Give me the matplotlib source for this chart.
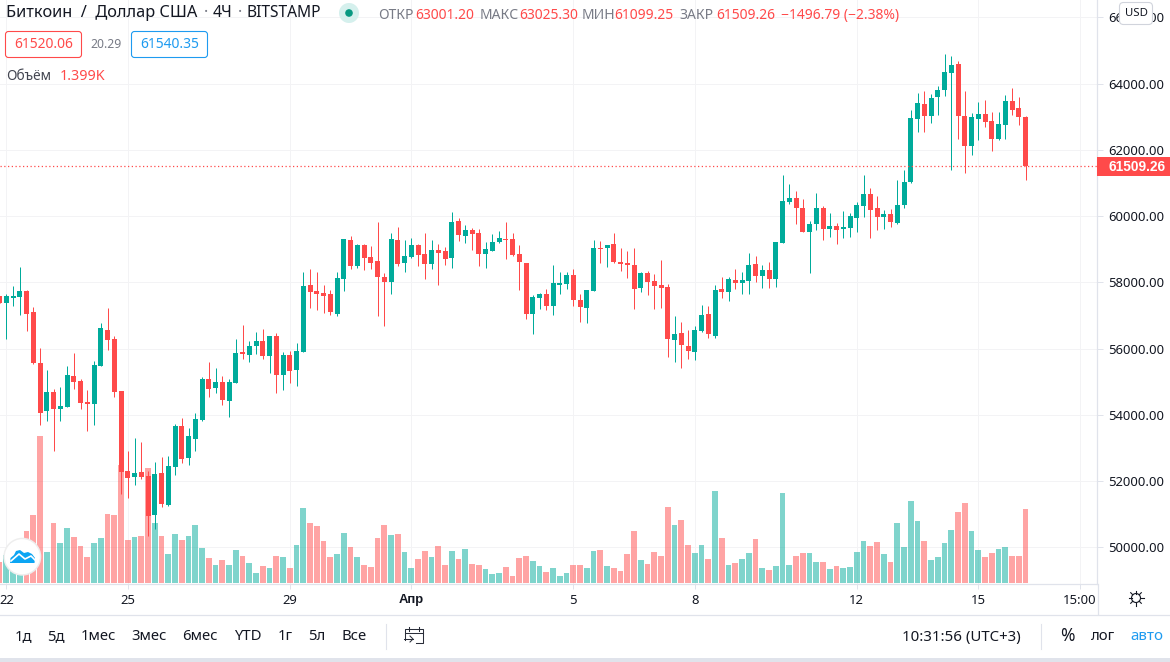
#set backend to run on server
import matplotlib
matplotlib.use('Agg')

from matplotlib import pyplot as plt
from matplotlib.patches import Circle, FancyBboxPatch, Polygon, Rectangle
import numpy as np

plt.rcParams['font.family'] = ['Noto Sans', 'DejaVu Sans']

# 4H candles, first one is cut off by the left edge
opens = [57585, 57374, 57525, 57555, 57736, 57102, 55561, 54111, 54685, 54171,
         54232, 55168, 55017, 54383, 54322, 55470, 56558, 56286, 54715, 52298,
         52117, 52268, 52147, 50969, 52238, 51271, 52419, 53658, 52691, 53265,
         53839, 55078, 54806, 54987, 54413, 54957, 55893, 55803, 56075, 56226,
         55772, 56377, 55198, 55803, 55349,
         55893, 57917, 57736, 57675, 57645, 57041, 58098, 59277, 58491, 59126,
         58763, 58642, 58159, 58008, 59277, 58582, 58763, 59126, 58854, 58552,
         58975, 58944, 58733, 59851, 59397, 59579, 59488, 58854, 58944, 59216,
         59307, 59307, 58854, 58582, 57041, 57524, 57645, 57283, 57917, 57947,
         58219, 57464, 57222,
         57735, 59035, 59035, 59155, 58612, 58581, 58521, 57826, 58279, 58038,
         57917, 57856, 56255, 56467, 56074, 55893, 56527, 57041, 56376, 57796,
         57705, 58068, 57977, 58038, 58551, 58189, 58370, 58098, 59186, 60424,
         60545, 60243, 59518, 59760, 60243, 59609, 59699,
         59607, 59638, 59940, 60302, 60665, 60242, 59970, 60061, 59789, 60332,
         61027, 62931, 63384, 63021, 63595, 63807, 64320, 64592, 63021, 62115,
         62931, 63082, 62870, 62326, 62749, 63474, 63263, 63001.20]
closes = [57374, 57585, 57585, 57736, 57041, 55561, 54050, 54685, 54171, 54262,
          55198, 54987, 54353, 54322, 55500, 56618, 56256, 54685, 52268, 52087,
          52238, 52117, 50939, 52208, 51301, 52449, 53658, 52661, 53356, 53869,
          55078, 54776, 54987, 54443, 54987, 55863, 55833, 56075, 56226, 55772,
          56377, 55198, 55803, 55319, 55923,
          57887, 57706, 57645, 57585, 57101, 58129, 59307, 58491, 59126, 58733,
          58582, 58159, 58008, 59307, 58552, 58793, 59126, 58823, 58552, 58975,
          58884, 58703, 59820, 59428, 59579, 59458, 58854, 59005, 59216, 59337,
          59277, 58823, 58612, 57041, 57555, 57645, 57283, 57978, 57978, 58219,
          57464, 57253, 57766,
          59035, 59005, 59125, 58612, 58551, 58521, 57796, 58279, 58007, 57887,
          57826, 56285, 56436, 56104, 55923, 56557, 57010, 56436, 57766, 57705,
          58098, 57977, 58068, 58521, 58189, 58370, 58098, 59216, 60454, 60545,
          60243, 59518, 59760, 60243, 59609, 59699, 59578,
          59668, 59999, 60332, 60665, 60181, 59970, 60061, 59819, 60332, 61027,
          62961, 63414, 63021, 63565, 63807, 64350, 64562, 63021, 62115, 62991,
          63082, 62840, 62326, 62779, 63474, 63202, 62991, 61509.26]
highs = [57585, 57645, 57887, 58461, 57766, 57253, 56014, 55349, 54776, 54836,
         55470, 55863, 55078, 54745, 55621, 56769, 57222, 56377, 54715, 52903,
         53295, 53174, 52298, 52570, 52721, 52751, 53718, 53899, 53597, 54050,
         55138, 55591, 55410, 55168, 55078, 56286, 56709, 56226, 56497, 56588,
         56377, 56467, 55893, 55923, 56165,
         58310, 58401, 58310, 57917, 57766, 58310, 59307, 59397, 59156, 59156,
         59095, 59820, 58280, 59488, 59669, 59277, 59337, 59156, 59488, 59277,
         59156, 59065, 60122, 59941, 59730, 59639, 59609, 59216, 59458, 59548,
         59820, 59488, 59126, 58582, 57615, 57675, 57796, 58521, 58310, 58310,
         58401, 57645, 57766,
         59276, 59246, 59125, 59488, 59035, 58944, 59035, 58309, 58340, 58249,
         58672, 57947, 56980, 56799, 56557, 56678, 57312, 57282, 57917, 58159,
         58159, 58400, 58309, 58883, 58793, 58521, 58612, 59216, 61240, 60968,
         60757, 60515, 59850, 60696, 60303, 60092, 59790,
         60151, 60091, 60423, 61239, 60846, 60604, 60181, 60212, 61088, 61390,
         63202, 63716, 63776, 63686, 63927, 64894, 64834, 64683, 63776, 63112,
         63444, 63504, 63142, 63142, 63656, 63867, 63595, 63025.30]
lows = [57374, 56286, 57283, 57011, 56528, 55531, 53688, 53809, 52903, 53809,
        54232, 54776, 54171, 53507, 53688, 55470, 55954, 54534, 51603, 51483,
        51875, 52057, 50335, 50546, 51211, 51241, 52177, 52540, 52479, 52903,
        53809, 54534, 54655, 54292, 53930, 54957, 55682, 55591, 55833, 55682,
        55259, 54655, 54745, 54957, 54866,
        55893, 57222, 57162, 57071, 57011, 56981, 57736, 58401, 58431, 58370,
        58401, 56981, 56678, 57645, 58491, 58310, 58733, 58491, 58098, 58401,
        57917, 58521, 58431, 59246, 59186, 58975, 58491, 58431, 58944, 59186,
        58703, 58793, 57766, 56890, 56437, 57192, 57162, 57011, 57645, 57796,
        57283, 56799, 56769,
        57735, 58581, 58461, 58581, 58340, 58128, 57192, 57705, 57615, 57192,
        57222, 55742, 55591, 55409, 55681, 55651, 56497, 56316, 56316, 57524,
        57433, 57796, 57645, 57645, 58007, 57826, 57826, 57856, 59186, 60364,
        59760, 59518, 58279, 59578, 59276, 59367, 59155,
        59336, 59366, 59517, 59970, 59336, 59577, 59607, 59668, 59758, 60242,
        60997, 62538, 62538, 62810, 63051, 63625, 61390, 62326, 61299, 61843,
        62296, 62689, 61964, 62296, 62326, 63051, 62749, 61099.25]
volumes = [397, 529, 630, 693, 983, 1285, 2778, 586, 1134, 756, 1040, 869, 699,
           491, 756, 851, 1304, 1285, 2230, 813, 869, 888, 2174, 1134, 888, 548,
           926, 813, 888, 1096, 662, 473, 340, 435, 340, 624, 510, 378, 189, 321,
           284, 510, 491, 284, 718, 1418, 1134, 1077, 794, 491, 548, 945, 680,
           491, 340, 302, 851, 1096, 907, 926,
           586, 284, 454, 605, 491, 699, 340, 605, 454, 643, 359, 340, 265, 170,
           189, 302, 132, 473, 510, 416, 321, 208, 284, 132, 189, 340, 340, 284,
           605, 624, 321, 284, 227, 548, 983, 435, 359, 586, 510, 1436, 1096,
           1191, 718, 567, 718, 454, 1739, 851, 340, 378, 454,
           567, 832, 284, 246, 321, 1701, 340, 510, 567, 567, 397, 397, 265, 321,
           284, 302, 586, 794, 699, 775, 548, 397, 1134, 680, 1550, 1172, 794,
           435, 491, 756, 1002, 1342, 1512, 983, 624, 491, 567, 643, 680, 510,
           510, 1399]

price_ticks = [50000, 52000, 54000, 56000, 58000, 60000, 62000, 64000, 66000]
time_ticks = [0, 18, 42, 60, 84, 102, 126, 144, 159]
time_labels = ['22', '25', '29', 'Апр', '5', '8', '12', '15', '15:00']
last_price = 61509.26

range_buttons = ['1д', '5д', '1мес', '3мес', '6мес', 'YTD', '1г', '5л', 'Все']
range_button_x = [23, 56, 98, 149, 200, 248, 285, 317, 354]

UP = '#00AB9B'
DOWN = '#FF4A4A'
GRID = '#F3F3F5'
BORDER = '#E0E3EB'
TEXT = '#131722'
GREY = '#787B86'
BLUE = '#1E9BF0'

W, H = 1170, 662
PANE_W, PANE_H = 1097, 584
x = np.arange(-1, 152)
o, h, l, c = map(np.array, (opens, highs, lows, closes))
up = c >= o

fig = plt.figure(figsize=(W / 100, H / 100), dpi=100, facecolor='white')
pos = [0, 1 - PANE_H / H, PANE_W / W, PANE_H / H]
xlim = (-0.933, 161.59)
price_lim = (48889, 66525)

# bottom layer: grid and both axes
ax = fig.add_axes(pos, zorder=1)
ax.set_xlim(*xlim)
ax.set_ylim(*price_lim)
ax.yaxis.tick_right()
ax.set_yticks(price_ticks)
ax.set_yticklabels(['%.2f' % p for p in price_ticks], fontsize=9.4, color=TEXT, va='center_baseline')
ax.set_xticks(time_ticks)
ax.set_xticklabels(time_labels, fontsize=9.4, color=TEXT)
apr = ax.get_xticklabels()[3]
apr.set_family('Liberation Sans')
apr.set_fontweight('bold')
ax.tick_params(axis='y', length=4.3, width=0.72, color=BORDER, pad=4)
ax.tick_params(axis='x', length=3.6, width=0.72, color=BORDER, pad=3.5)
ax.grid(True, color=GRID, linewidth=0.72)
ax.set_axisbelow(True)
for side in ['top', 'left']:
    ax.spines[side].set_visible(False)
for side in ['bottom', 'right']:
    ax.spines[side].set_color(BORDER)
    ax.spines[side].set_linewidth(0.9)

# volume sits over the grid, under the candles
ax_vol = fig.add_axes(pos, zorder=2)
ax_vol.patch.set_alpha(0)
ax_vol.set_xlim(*xlim)
ax_vol.set_ylim(-13, 11024)
ax_vol.axis('off')
ax_vol.bar(x, volumes, width=0.87, color=[UP if u else DOWN for u in up], alpha=0.5, linewidth=0)

ax_c = fig.add_axes(pos, zorder=3)
ax_c.patch.set_alpha(0)
ax_c.set_xlim(*xlim)
ax_c.set_ylim(*price_lim)
ax_c.axis('off')
colors = [UP if u else DOWN for u in up]
ax_c.vlines(x, l, h, colors=colors, linewidth=0.72)
ax_c.bar(x, np.abs(c - o), bottom=np.minimum(o, c), width=0.74, color=colors, linewidth=0)
ax_c.axhline(last_price, color=DOWN, linewidth=0.9, linestyle=(0, (1, 2)))

# pixel overlay for the toolbar and legend stuff
ov = fig.add_axes([0, 0, 1, 1], zorder=4)
ov.patch.set_alpha(0)
ov.set_xlim(0, W)
ov.set_ylim(H, 0)
ov.axis('off')


def label(px, py, s, color=TEXT, size=10, ha='left', **kw):
    return ov.text(px, py, s, color=color, fontsize=size, ha=ha, va='center', **kw)


# header
label(6, 13, 'Биткоин  /  Доллар США', size=11.8)
label(204, 13, '·', GREY, size=11.4)
label(213, 13, '4Ч', size=11.4)
label(238, 13, '·', GREY, size=11.4)
label(246, 13, 'BITSTAMP', size=11.2)
ov.add_patch(Circle((349, 13), 10, color='#D5F0ED', linewidth=0))
ov.add_patch(Circle((349, 13), 3.8, color='#089981', linewidth=0))
label(378, 15.5, 'ОТКР', GREY)
label(415, 15.5, '63001.20', DOWN)
label(480, 15.5, 'МАКС', GREY)
label(519, 15.5, '63025.30', DOWN)
label(582, 15.5, 'МИН', GREY)
label(614, 15.5, '61099.25', DOWN)
label(679, 15.5, 'ЗАКР', GREY)
label(716, 15.5, '61509.26', DOWN)
label(781, 15.5, '\u22121496.79 (\u22122.38%)', DOWN)

ov.add_patch(FancyBboxPatch((5.5, 31.5), 76, 26, boxstyle='round,pad=0,rounding_size=3',
                            facecolor='white', edgecolor=DOWN, linewidth=0.8))
label(43.5, 44.5, '61520.06', DOWN, ha='center')
label(106, 44.5, '20.29', GREY, size=8.8, ha='center')
ov.add_patch(FancyBboxPatch((131.5, 31.5), 76, 26, boxstyle='round,pad=0,rounding_size=3',
                            facecolor='white', edgecolor=BLUE, linewidth=0.8))
label(169.5, 44.5, '61540.35', BLUE, ha='center')
label(6, 76, 'Объём', '#434651', size=9.8)
label(60, 76, '1.399K', DOWN, size=10.3)

# currency badge and last price tag on the scale
ov.add_patch(FancyBboxPatch((1119.5, 2.5), 33, 22, boxstyle='round,pad=0,rounding_size=4',
                            facecolor='white', edgecolor='#D1D4DC', linewidth=0.8))
label(1136, 13.5, 'USD', TEXT, size=8.2, ha='center')
ov.add_patch(Rectangle((1097, 157), 73, 19, facecolor=DOWN, linewidth=0))
label(1137, 167, '61509.26', 'white', size=9.9, ha='center', fontweight='bold', family='Liberation Sans')

# settings gear
ov.plot([1097.5, 1097.5], [584, 614], color=BORDER, lw=0.9)
ov.add_patch(Circle((1136, 598), 4.5, facecolor='white', edgecolor=TEXT, linewidth=0.8))
for a in np.arange(0, 360, 45):
    ca, sa = np.cos(np.radians(a)), np.sin(np.radians(a))
    ov.plot([1136 + 4.5 * ca, 1136 + 7.5 * ca], [598 + 4.5 * sa, 598 + 7.5 * sa], color=TEXT, lw=0.8)

# toolbar
ov.plot([0, W], [614.5, 614.5], color=BORDER, lw=0.9)
for s, bx in zip(range_buttons, range_button_x):
    label(bx, 637, s, TEXT, size=10.7, ha='center')
ov.plot([385.5, 385.5], [624, 649], color=BORDER, lw=0.8)
ov.plot([1040.5, 1040.5], [624, 649], color=BORDER, lw=0.8)

# date range icon
ov.plot([405, 405, 423, 423, 416], [640, 629, 629, 643, 643], color='#2A2E39', lw=0.75)
ov.plot([405, 423], [633, 633], color='#2A2E39', lw=0.75)
ov.plot([409, 409], [627, 631], color='#2A2E39', lw=0.75)
ov.plot([419, 419], [627, 631], color='#2A2E39', lw=0.75)
ov.plot([404, 413], [639, 639], color='#2A2E39', lw=0.75)
ov.plot([410, 413, 410], [636, 639, 642], color='#2A2E39', lw=0.75)

label(961, 637, '10:31:56 (UTC+3)', TEXT, size=10.8, ha='center')
label(1067, 636, '%', TEXT, size=12.5, ha='center')
label(1103, 637, 'лог', TEXT, size=10.7, ha='center')
label(1147, 637, 'авто', BLUE, size=10.9, ha='center')
ov.add_patch(Rectangle((0, 658), W, 4, facecolor=BORDER, linewidth=0))

# logo bubble
ov.add_patch(Circle((22.3, 556.7), 19, facecolor='#EEEEEE', linewidth=0))
ov.add_patch(Circle((22.3, 556.7), 17.5, facecolor='white', linewidth=0))
ov.add_patch(Polygon([(10, 563), (10.5, 558), (14, 555), (16, 551), (20, 550), (24, 553),
                      (28, 552), (32, 554), (35, 558), (34.5, 563)], closed=True,
                     facecolor='#0CA5F3', linewidth=0))
ov.plot([11, 19, 25, 31, 35], [561, 554, 559, 556, 560], color='white', lw=1.2)

plt.savefig('out.png', dpi=100)
plt.close()
